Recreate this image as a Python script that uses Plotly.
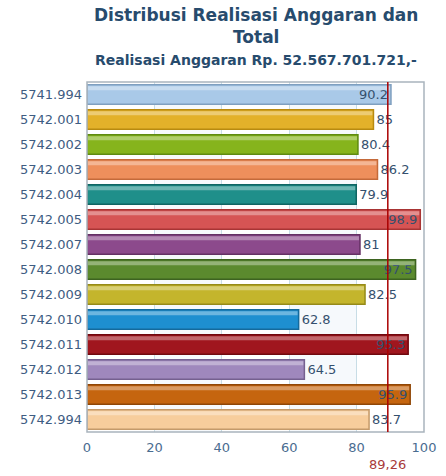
import plotly.graph_objects as go

categories = ["5741.994", "5742.001", "5742.002", "5742.003", "5742.004", "5742.005",
              "5742.007", "5742.008", "5742.009", "5742.010", "5742.011", "5742.012",
              "5742.013", "5742.994"]
values = [90.2, 85, 80.4, 86.2, 79.9, 98.9, 81, 97.5, 82.5, 62.8, 95.3, 64.5, 95.9, 83.7]
value_labels = ["90.2", "85", "80.4", "86.2", "79.9", "98.9", "81", "97.5", "82.5",
                "62.8", "95.3", "64.5", "95.9", "83.7"]
bar_colors = ["#a9c9e8", "#e3b12a", "#86b41c", "#ee8f5c", "#1f8f8a", "#d65454",
              "#8c4a8c", "#5b8a2e", "#c4b52c", "#1e8fd0", "#a0161e", "#9f88bd",
              "#c5650f", "#f7cd9c"]
edge_colors = ["#7f9fbf", "#b88a10", "#5f8a10", "#c46a3a", "#0f6562", "#a83434",
               "#643064", "#3d6320", "#958a18", "#146a9c", "#70080e", "#75608f",
               "#8f4606", "#c49a6a"]
average = 89.26
average_label = "89,26"
x_ticks = [0, 20, 40, 60, 80, 100]

text_pos = ["inside" if v > 88 else "outside" for v in values]

W, H = 446, 476
ML, MR, MT, MB = 87, 22, 82, 44
plot_h = H - MT - MB

fig = go.Figure()
fig.add_trace(go.Bar(
    y=categories, x=values, orientation="h",
    marker=dict(color=bar_colors, line=dict(color=edge_colors, width=1.5)),
    width=0.78,
    text=value_labels, textposition=text_pos, insidetextanchor="end",
    constraintext="none",
    textfont=dict(family="DejaVu Sans", size=13, color="#34506e"),
    cliponaxis=False, hoverinfo="skip",
))
# glossy highlight stripe
fig.add_trace(go.Bar(
    y=categories, x=[v - 0.6 for v in values], orientation="h",
    base=0.3,
    marker=dict(color="rgba(255,255,255,0.35)", line=dict(width=0)),
    width=0.16, offset=-0.33, hoverinfo="skip",
))


def py_to_paper(py):
    return (MT + plot_h - py) / plot_h


fig.update_layout(
    width=W, height=H,
    margin=dict(l=ML, r=MR, t=MT, b=MB, autoexpand=False),
    paper_bgcolor="white", plot_bgcolor="white",
    barmode="overlay", showlegend=False,
    font=dict(family="DejaVu Sans", color="#3e5c82", size=13),
    xaxis=dict(range=[0, 100], tickvals=x_ticks, showgrid=True, gridcolor="#c8dde6",
               gridwidth=1, zeroline=False, showline=False, ticks="",
               tickfont=dict(size=13, color="#4a6c90"), fixedrange=True,
               automargin=False, ticklabelstandoff=6),
    yaxis=dict(autorange="reversed", showgrid=False, ticks="", ticklen=0,
               tickfont=dict(size=13, color="#3e5c82"), showline=False,
               automargin=False, ticklabelstandoff=4, fixedrange=True),
    shapes=[
        dict(type="rect", xref="x", yref="paper", x0=20, x1=40, y0=0, y1=1,
             fillcolor="#f6f9fc", line=dict(width=0), layer="below"),
        dict(type="rect", xref="x", yref="paper", x0=60, x1=80, y0=0, y1=1,
             fillcolor="#f6f9fc", line=dict(width=0), layer="below"),
        dict(type="rect", xref="paper", yref="paper", x0=0, x1=1, y0=0, y1=1,
             line=dict(color="#a9b4bd", width=1.5), layer="above"),
        dict(type="line", xref="x", yref="paper", x0=average, x1=average, y0=0, y1=1,
             line=dict(color="#aa0000", width=1.5), layer="above"),
    ],
    annotations=[
        dict(x=0.5, xref="paper", y=py_to_paper(15), yref="paper", yanchor="middle",
             text="<b>Distribusi Realisasi Anggaran dan</b>", showarrow=False,
             font=dict(family="DejaVu Sans", size=17, color="#274b6d")),
        dict(x=0.5, xref="paper", y=py_to_paper(37), yref="paper", yanchor="middle",
             text="<b>Total</b>", showarrow=False,
             font=dict(family="DejaVu Sans", size=17, color="#274b6d")),
        dict(x=0.5, xref="paper", y=py_to_paper(60), yref="paper", yanchor="middle",
             text="<b>Realisasi Anggaran Rp. 52.567.701.721,-</b>", showarrow=False,
             font=dict(family="DejaVu Sans", size=14, color="#274b6d")),
        dict(x=average, xref="x", y=py_to_paper(464), yref="paper", text=average_label,
             showarrow=False, yanchor="middle",
             font=dict(family="DejaVu Sans", size=13, color="#a83a3a")),
    ],
)

fig.write_html("out.html", config={"displayModeBar": False},
               post_script="document.body.style.margin='0';document.body.style.overflow='hidden';")
